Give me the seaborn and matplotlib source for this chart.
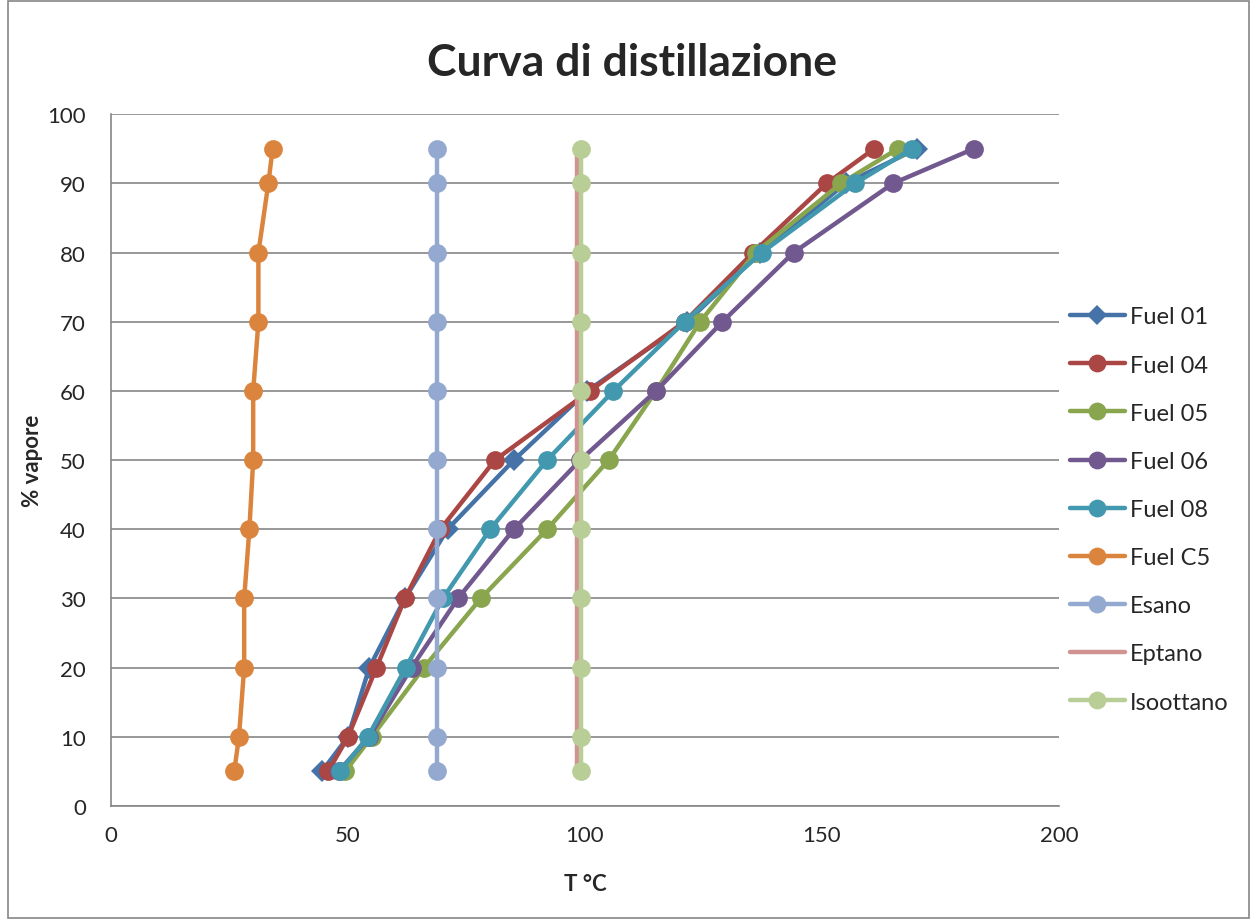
import matplotlib
matplotlib.use("Agg")
import matplotlib.pyplot as plt
import seaborn as sns
import pandas as pd
from matplotlib.patches import Rectangle

# ---- data ----
vapore = [5, 10, 20, 30, 40, 50, 60, 70, 80, 90, 95]

fuel_01 = [44.5, 50, 54.5, 62, 71, 85, 100.5, 121.5, 137, 155, 170]
fuel_04 = [45.8, 50, 56, 62, 69.5, 81, 101, 121, 135.5, 151, 161]
fuel_05 = [49.4, 55, 66, 78, 92, 105, 115, 124.3, 136, 154, 166]
fuel_06 = [48, 54.5, 63.4, 73.2, 85, 99, 115, 129, 144, 165, 182]
fuel_08 = [48.3, 54.2, 62.2, 70, 80, 92, 106, 121, 137.3, 157, 169]
fuel_c5 = [26, 27, 28.1, 28.1, 29.2, 30, 30, 31.1, 31.1, 33.2, 34.1]
esano = [68.8] * 11
eptano = [98.4] * 11
isoottano = [99.2] * 11

series = ["Fuel 01", "Fuel 04", "Fuel 05", "Fuel 06", "Fuel 08",
          "Fuel C5", "Esano", "Eptano", "Isoottano"]
values = [fuel_01, fuel_04, fuel_05, fuel_06, fuel_08,
          fuel_c5, esano, eptano, isoottano]
colors = ["#4572A7", "#AA4643", "#89A54E", "#71588F", "#4198AF",
          "#DB843D", "#93A9CF", "#D19392", "#B9CD96"]
markers = ["D", "o", "o", "o", "o", "o", "o", "", "o"]

rows = []
for name, vals in zip(series, values):
    for t, v in zip(vals, vapore):
        rows.append({"serie": name, "T": t, "vapore": v})
df = pd.DataFrame(rows)

sns.set_style("white")
plt.rcParams["font.family"] = ["Lato", "DejaVu Sans"]

fig = plt.figure(figsize=(12.54, 9.2), dpi=100)
ax = fig.add_axes([0.0885, 0.1228, 0.756, 0.752])

for name, col, mk in zip(series, colors, markers):
    sub = df[df["serie"] == name]
    ms = 11 if mk == "D" else 13.5
    sns.lineplot(data=sub, x="T", y="vapore", ax=ax, sort=False,
                 estimator=None, color=col, linewidth=3.2,
                 marker=mk if mk else None, markersize=ms,
                 markeredgewidth=0, label=name)

ax.set_xlim(0, 200)
ax.set_ylim(0, 100)
ax.set_xticks([0, 50, 100, 150, 200])
ax.set_yticks(range(0, 101, 10))
ax.tick_params(axis="both", labelsize=16, width=1.2, color="#868686")
ax.tick_params(axis="x", direction="inout", length=10, pad=9)
ax.tick_params(axis="y", direction="out", length=6, pad=12)
ax.yaxis.grid(True, color="#868686", linewidth=1.2)
ax.xaxis.grid(False)
ax.set_axisbelow(True)
for s in ["top", "right"]:
    ax.spines[s].set_visible(False)
for s in ["left", "bottom"]:
    ax.spines[s].set_color("#868686")
    ax.spines[s].set_linewidth(1.2)

ax.set_xlabel("T °C", fontsize=16, fontweight="bold", labelpad=20)
ax.set_ylabel("% vapore", fontsize=16, fontweight="bold", labelpad=3)
fig.text(0.504, 0.932, "Curva di distillazione", fontsize=32,
         fontweight="bold", ha="center", va="center")

ax.get_legend().remove()
handles, labels = ax.get_legend_handles_labels()
fig.legend(handles, labels, loc="upper left", bbox_to_anchor=(0.836, 0.689),
           frameon=False, fontsize=17, handlelength=2.35,
           labelspacing=1.15, handletextpad=0.2, markerscale=0.95)

fig.patches.append(Rectangle((0.006, 0.001), 0.99, 0.997,
                             transform=fig.transFigure, fill=False,
                             edgecolor="#868686", linewidth=1.2))

fig.savefig("out.png", dpi=100)
